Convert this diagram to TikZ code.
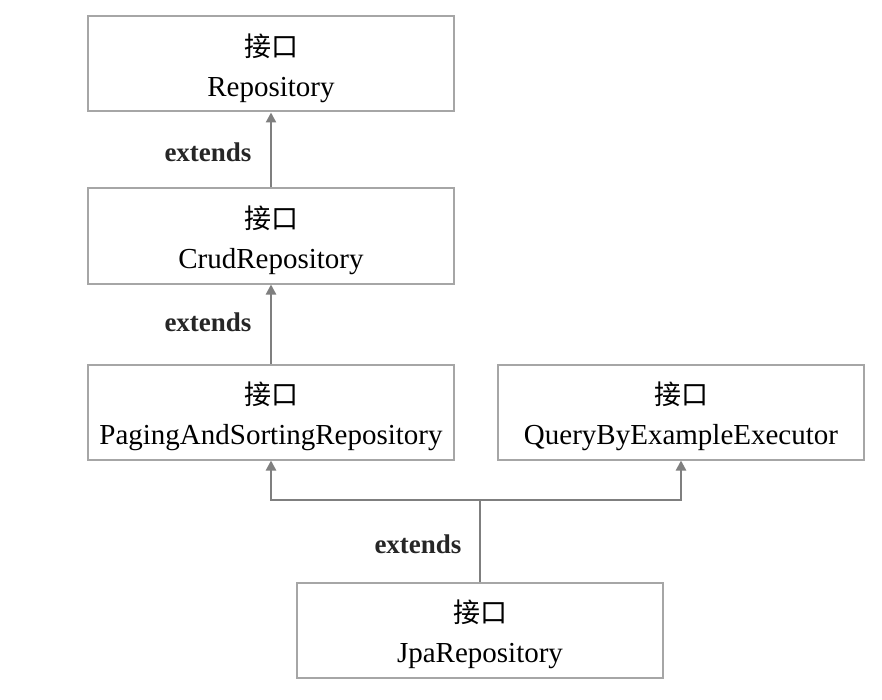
\documentclass[tikz,border=0pt]{standalone}
\usepackage{fontspec}
\setmainfont{Liberation Serif}
\newfontfamily\cjk{Noto Sans CJK SC}
\usetikzlibrary{arrows.meta}
\definecolor{boxgray}{HTML}{A6A6A6}
\definecolor{linegray}{HTML}{7F7F7F}
\newcommand{\jk}{{\cjk\fontsize{27}{40}\selectfont 接口}}
\tikzset{
  ibox/.style={draw=boxgray, line width=2pt, fill=white, minimum width=366pt, minimum height=95pt, inner sep=0pt},
  itext/.style={align=center, inner sep=0pt, yshift=-4pt, font=\fontsize{29}{40}\selectfont},
  conn/.style={draw=linegray, line width=2.2pt},
  arr/.style={conn, -{Triangle[width=10pt,length=10pt]}},
  lbl/.style={font=\fontsize{27}{30}\selectfont\bfseries, text=black!85, inner sep=0pt}
}
\begin{document}
\begin{tikzpicture}[x=1pt,y=-1pt]
\useasboundingbox[fill=white] (0,0) rectangle (882,700);
\node[ibox, label={[itext]center:{\jk\\Repository}}] (b1) at (271,64) {};
\node[ibox, label={[itext]center:{\jk\\CrudRepository}}] (b2) at (271,236) {};
\node[ibox, label={[itext]center:{\jk\\PagingAndSortingRepository}}] (b3) at (271,412) {};
\node[ibox, label={[itext]center:{\jk\\QueryByExampleExecutor}}] (b4) at (681,412) {};
\node[ibox, label={[itext]center:{\jk\\JpaRepository}}] (b5) at (480,630.5) {};
\coordinate (j) at (480,500);
\draw[arr] (b2.north) -- (b1.south);
\draw[arr] (b3.north) -- (b2.south);
\draw[conn] (b5.north) -- (j);
\draw[arr] (j) -| (b3.south);
\draw[arr] (j) -| (b4.south);
\node[lbl] (e1) at (208,152) {extends};
\node[lbl] (e2) at (208,322) {extends};
\node[lbl] (e3) at (418,544) {extends};
\end{tikzpicture}
\end{document}
